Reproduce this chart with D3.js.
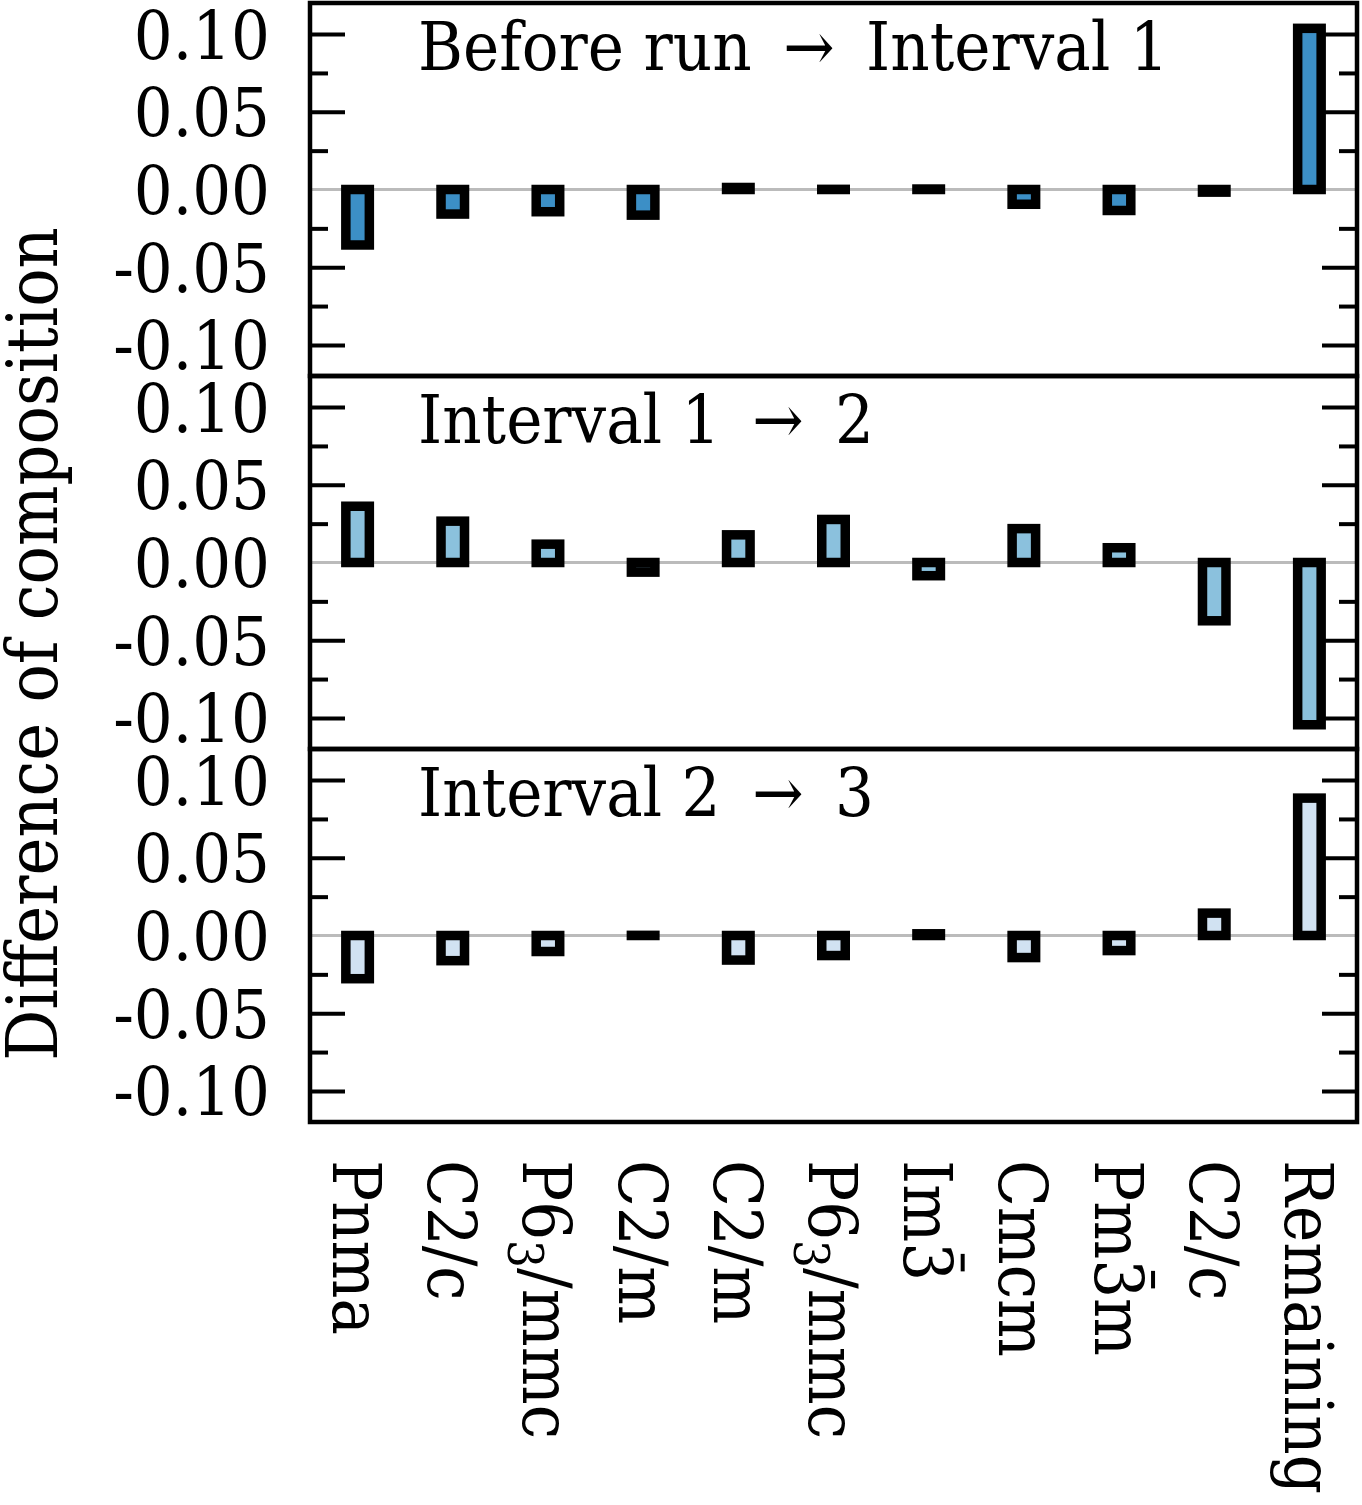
<!DOCTYPE html>
<html>
<head>
<meta charset="utf-8">
<script src="https://cdn.jsdelivr.net/npm/d3@7"></script>
<style>
  body { margin: 0; background: #fff; }
  text { font-family: "DejaVu Serif", serif; font-stretch: condensed; fill: #000; white-space: pre; }
</style>
</head>
<body>
<svg id="chart" width="1362" height="1505"></svg>
<script>
// categories along x (space groups)
const categories = ['Pnma', 'C2/c', 'P63/mmc', 'C2/m', 'C2/m', 'P63/mmc', 'Im3', 'Cmcm', 'Pm3m', 'C2/c', 'Remaining'];
const panelTitles = ['Before run \u2009\u2192\u2009 Interval 1', 'Interval 1 \u2009\u2192\u2009 2', 'Interval 2 \u2009\u2192\u2009 3'];
const panelColors = ['#3c8fc6', '#8bc1dd', '#d1e2f2'];

// difference of composition, one array per panel
const diffBeforeTo1 = [-0.0357, -0.0158, -0.0143, -0.0165, 0.0013, 0.0001, 0.0003, -0.0095, -0.0135, -0.0017, 0.1037];
const diff1To2 = [0.0362, 0.0266, 0.0118, -0.0062, 0.0178, 0.0277, -0.0085, 0.0218, 0.0095, -0.0375, -0.1044];
const diff2To3 = [-0.0278, -0.0162, -0.0103, 0.0001, -0.0158, -0.0129, 0.0011, -0.0142, -0.0097, 0.0144, 0.0884];
const panelData = [diffBeforeTo1, diff1To2, diff2To3];

const yMajorTicks = [-0.10, -0.05, 0.05, 0.10];
const yTickLabels = [-0.10, -0.05, 0.00, 0.05, 0.10];
const yMinorTicks = [-0.075, -0.025, 0.025, 0.075];

const svg = d3.select('#chart');
const plotLeft = 310, plotRight = 1357, plotTop = 3, panelH = 373;
const fontSize = 68;

const x = d3.scaleBand()
    .domain(d3.range(categories.length))
    .range([plotLeft, plotRight])
    .paddingInner(0)
    .paddingOuter(0);
const barW = 23.5;

panelData.forEach(function (vals, p) {
    const y0 = plotTop + p * panelH;
    const y = d3.scaleLinear().domain([-0.12, 0.12]).range([y0 + panelH, y0]);
    const g = svg.append('g').attr('class', 'panel');

    // zero line
    g.append('line')
        .attr('x1', plotLeft).attr('x2', plotRight)
        .attr('y1', y(0)).attr('y2', y(0))
        .attr('stroke', '#bbbbbb').attr('stroke-width', 3);

    // inward ticks, left and right
    const leftAxis = d3.axisRight(y).tickValues(yMajorTicks).tickSize(35).tickFormat('');
    const leftMinor = d3.axisRight(y).tickValues(yMinorTicks).tickSize(18).tickFormat('');
    const rightAxis = d3.axisLeft(y).tickValues(yMajorTicks).tickSize(35).tickFormat('');
    const rightMinor = d3.axisLeft(y).tickValues(yMinorTicks).tickSize(18).tickFormat('');
    [[leftAxis, plotLeft], [leftMinor, plotLeft], [rightAxis, plotRight], [rightMinor, plotRight]].forEach(function (a) {
        const ax = g.append('g').attr('transform', `translate(${a[1]},0)`).call(a[0]);
        ax.select('.domain').remove();
        ax.selectAll('line').attr('stroke', '#000').attr('stroke-width', 4);
    });

    // tick labels
    g.selectAll('text.ylab')
        .data(yTickLabels)
        .enter()
        .append('text')
        .attr('class', 'ylab')
        .attr('x', plotLeft - 40)
        .attr('y', (d) => y(d))
        .attr('dy', '0.36em')
        .attr('text-anchor', 'end')
        .style('font-size', fontSize + 'px')
        .text((d) => d.toFixed(2));

    // bars
    g.selectAll('rect.bar')
        .data(vals)
        .enter()
        .append('rect')
        .attr('class', 'bar')
        .attr('x', (d, i) => x(i) + x.bandwidth() / 2 - barW / 2)
        .attr('width', barW)
        .attr('y', (d) => y(Math.max(0, d)))
        .attr('height', (d) => Math.abs(y(d) - y(0)))
        .attr('fill', panelColors[p])
        .attr('stroke', '#000')
        .attr('stroke-width', 9.5);

    // title
    g.append('text')
        .attr('x', 418)
        .attr('y', y0 + 67)
        .style('font-size', fontSize + 'px')
        .text(panelTitles[p]);

    // frame
    g.append('rect')
        .attr('x', plotLeft).attr('y', y0)
        .attr('width', plotRight - plotLeft).attr('height', panelH)
        .attr('fill', 'none')
        .attr('stroke', '#000').attr('stroke-width', 4.5);
});

// x labels, rotated
const xl = svg.append('g')
    .selectAll('text')
    .data(categories)
    .enter()
    .append('text')
    .attr('transform', (d, i) => `translate(${x(i) + x.bandwidth() / 2},1160) rotate(90)`)
    .attr('dy', '0.36em')
    .style('font-size', fontSize + 'px');

xl.each(function (d) {
    const t = d3.select(this);
    if (d === 'P63/mmc') {
        t.append('tspan').text('P6');
        t.append('tspan').attr('baseline-shift', '-0.3em').style('font-size', '0.72em').text('3');
        t.append('tspan').text('/mmc');
    } else if (d === 'Im3' || d === 'Pm3m') {
        // 3 with an overbar (rotoinversion)
        const parts = d.split('3');
        t.append('tspan').text(parts[0]);
        const bar = t.append('tspan').text('3');
        if (parts[1]) t.append('tspan').text(parts[1]);
        const node = this;
        const start = node.getStartPositionOfChar(parts[0].length);
        const w = node.getSubStringLength(parts[0].length, 1);
        // overbar drawn in the label's own (rotated) frame
        d3.select(node.parentNode).append('line')
            .attr('transform', t.attr('transform'))
            .attr('x1', start.x + w * 0.3).attr('x2', start.x + w * 0.75)
            .attr('y1', start.y - fontSize * 0.86).attr('y2', start.y - fontSize * 0.86)
            .attr('stroke', '#000').attr('stroke-width', 4);
    } else {
        t.text(d);
    }
});

// y axis title
svg.append('text')
    .attr('transform', 'translate(57,644) rotate(-90)')
    .attr('text-anchor', 'middle')
    .style('font-size', '71px')
    .text('Difference of composition');
</script>
</body>
</html>
